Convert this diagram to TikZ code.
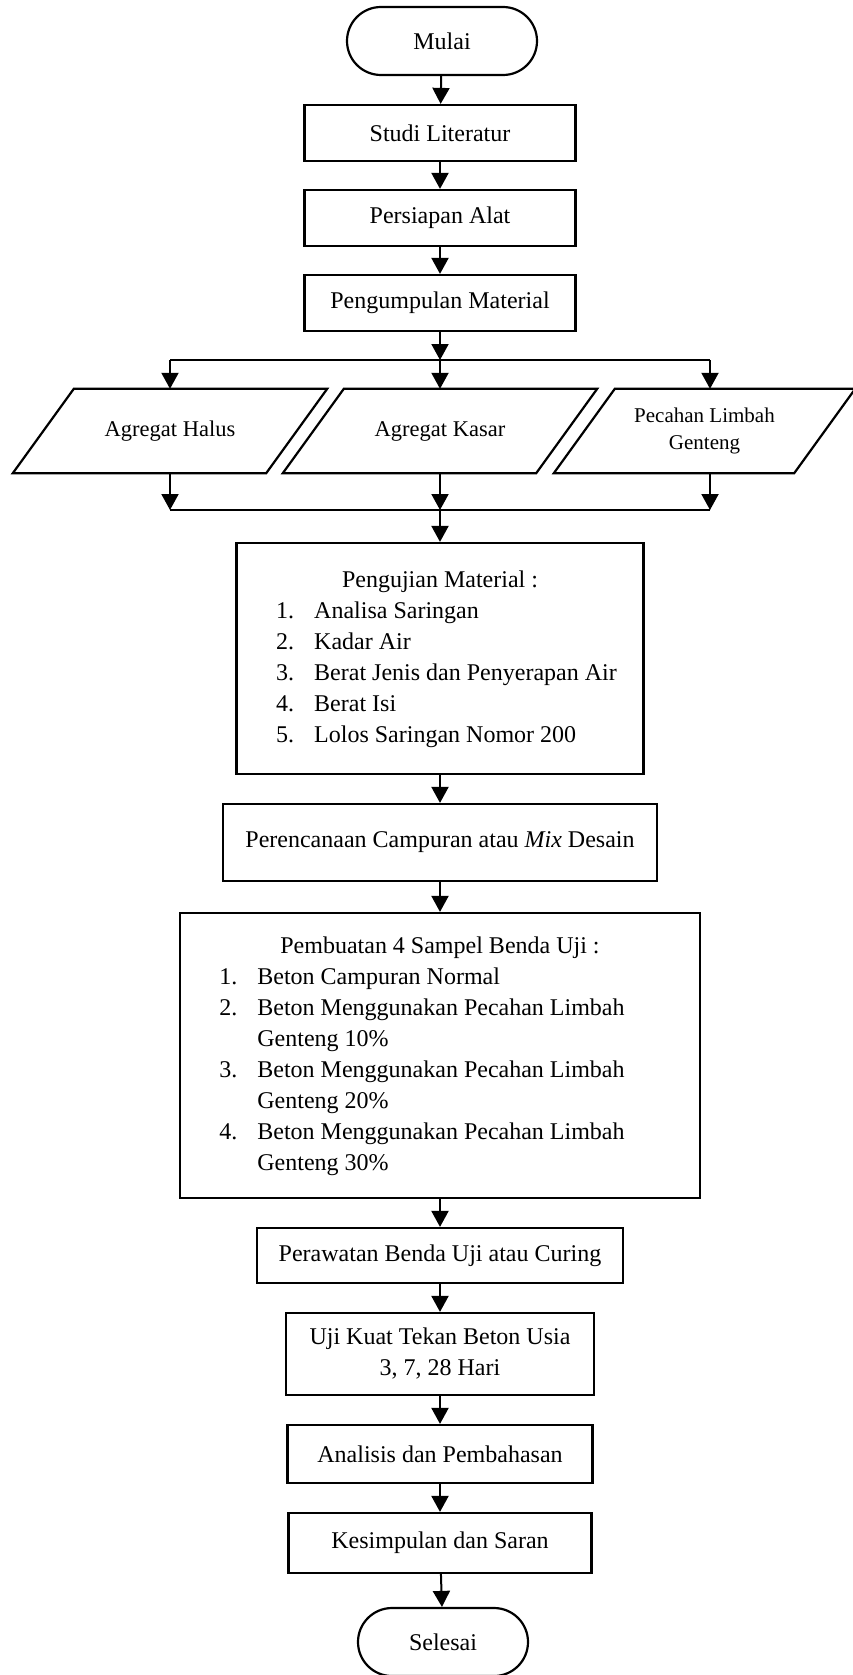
\documentclass[tikz,border=0pt]{standalone}
\usepackage{fontspec}
\setmainfont{Liberation Serif}
\usetikzlibrary{arrows.meta}

\begin{document}
\begin{tikzpicture}[
 x=1pt,y=-1pt,
 link/.style={line width=2pt,-{Triangle[length=16pt,width=17pt]}},
 rule/.style={line width=2pt},
 box/.style={draw,line width=2.2pt,inner sep=0pt,align=center},
 stage/.style={box,minimum width=271pt,minimum height=56pt},
 term/.style={box,rounded corners=34pt,minimum height=68pt},
 paracell/.style={inner sep=0pt,minimum width=253pt,minimum height=84pt,
  align=center,font=\fontsize{22.5}{28}\selectfont},
 slant/.style={line width=2.2pt,line join=miter},
 every node/.style={font=\fontsize{24}{31}\selectfont}]
 \useasboundingbox (0,0) rectangle (853,1675);
 \clip (0,0) rectangle (853,1675);
 % Start and preparation.
 \node[term,minimum width=190pt] (mulai) at (442,41) {Mulai};
 \node[stage] (studi) at (440,133) {Studi Literatur};
 \node[stage] (alat) at (440,218) {Persiapan Alat};
 \node[stage] (kumpul) at (440,303) {Pengumpulan Material};
 \draw[link] (mulai) -- (studi);
 \draw[link] (studi) -- (alat);
 \draw[link] (alat) -- (kumpul);
 % The three materials, drawn as leaning boxes.
 \node[paracell] (halus) at (170,431) {Agregat Halus};
 \node[paracell] (kasar) at (440,431) {Agregat Kasar};
 \node[paracell,minimum width=240pt,font=\fontsize{21}{27}\selectfont] (genteng) at (704.5,431) {Pecahan Limbah\\Genteng};
 \foreach \n in {halus,kasar,genteng}{
  \draw[slant] ([xshift=-30.5pt]\n.south west) -- ([xshift=30.5pt]\n.north west)
   -- ([xshift=30.5pt]\n.north east) -- ([xshift=-30.5pt]\n.south east) -- cycle;
 }
 \coordinate (s1) at (170,360); \coordinate (s2) at (440,360); \coordinate (s3) at (710,360);
 \coordinate (m1) at (170,510); \coordinate (m2) at (440,510); \coordinate (m3) at (710,510);
 \draw[link] (kumpul) -- (s2);
 \draw[rule] (s1) -- (s3);
 \draw[link] (s1) -- (s1 |- halus.north);
 \draw[link] (s2) -- (kasar.north);
 \draw[link] (s3) -- (s3 |- genteng.north);
 \draw[link] (halus.south) -- (m1);
 \draw[link] (kasar.south) -- (m2);
 \draw[link] (s3 |- genteng.south) -- (m3);
 \draw[rule] (m1) -- (m3);
 % Material tests and mix design.
 \node[box,minimum width=407pt,minimum height=231pt] (uji) at (440,658.5) {%
  \begin{tabular}{@{\hspace{13pt}}p{38pt}@{}l@{}}
   \multicolumn{2}{@{}c@{}}{Pengujian Material :}\\
   1. & Analisa Saringan\\
   2. & Kadar Air\\
   3. & Berat Jenis dan Penyerapan Air\\
   4. & Berat Isi\\
   5. & Lolos Saringan Nomor 200
  \end{tabular}};
 \node[box,minimum width=434pt,minimum height=77pt] (campur) at (440,842.5) {Perencanaan Campuran atau \textit{Mix} Desain};
 \draw[link] (m2) -- (uji);
 \draw[link] (uji) -- (campur);
 % Samples, curing and testing.
 \node[box,minimum width=520pt,minimum height=285pt] (sampel) at (440,1055.5) {%
  \begin{tabular}{@{}p{38pt}@{}l@{\hspace{36pt}}}
   \multicolumn{2}{@{}c@{}}{Pembuatan 4 Sampel Benda Uji :}\\
   1. & Beton Campuran Normal\\
   2. & Beton Menggunakan Pecahan Limbah\\
      & Genteng 10\%\\
   3. & Beton Menggunakan Pecahan Limbah\\
      & Genteng 20\%\\
   4. & Beton Menggunakan Pecahan Limbah\\
      & Genteng 30\%
  \end{tabular}};
 \node[box,minimum width=366pt,minimum height=55pt] (rawat) at (440,1255.5) {Perawatan Benda Uji atau Curing};
 \node[box,minimum width=308pt,minimum height=82pt] (tekan) at (440,1354) {Uji Kuat Tekan Beton Usia\\3, 7, 28 Hari};
 \node[box,minimum width=305pt,minimum height=58pt] (bahas) at (440,1454) {Analisis dan Pembahasan};
 \node[box,minimum width=303pt,minimum height=60pt] (simpul) at (440,1543) {Kesimpulan dan Saran};
 \node[term,minimum width=170pt] (selesai) at (443,1642) {Selesai};
 \draw[link] (campur) -- (sampel);
 \draw[link] (sampel) -- (rawat);
 \draw[link] (rawat) -- (tekan);
 \draw[link] (tekan) -- (bahas);
 \draw[link] (bahas) -- (simpul);
 \draw[link] (simpul) -- (selesai);
\end{tikzpicture}
\end{document}
